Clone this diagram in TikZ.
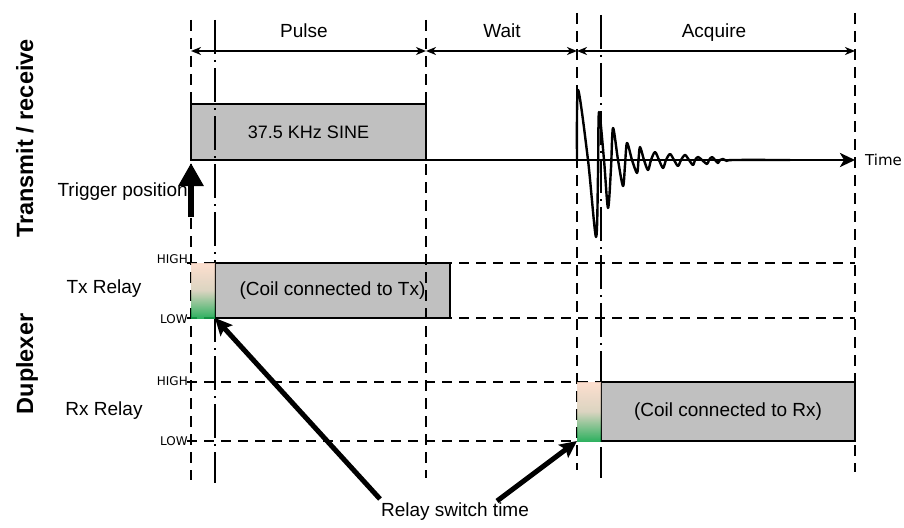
\documentclass[tikz,border=0pt]{standalone}
\usepackage{fontspec}
\setmainfont{Liberation Sans}
\newfontfamily\dvfont{DejaVu Sans}
\usetikzlibrary{arrows.meta}
\definecolor{boxgray}{RGB}{192,192,192}
\definecolor{peach}{RGB}{253,218,200}
\definecolor{midtone}{RGB}{214,206,184}
\definecolor{relaygreen}{RGB}{18,166,74}
\begin{document}
\begin{tikzpicture}[x=1pt,y=-1pt,
  vdash/.style={line width=2.3pt, dash pattern=on 11pt off 7pt},
  vdashdot/.style={line width=2.3pt, dash pattern=on 34pt off 6pt on 2pt off 6pt},
  hdash/.style={line width=2.3pt, dash pattern=on 10pt off 7pt},
  dimarrow/.style={line width=1.7pt, {Stealth[length=10pt,width=8pt,inset=3pt]}-{Stealth[length=10pt,width=8pt,inset=3pt]}},
  graybox/.style={draw, fill=boxgray, line width=2.7pt, inner sep=0pt, outer sep=0pt, anchor=north west, font=\fontsize{19}{22}\selectfont},
  gradbox/.style={top color=peach, bottom color=relaygreen, middle color=midtone, opacity=0.88, inner sep=0pt, outer sep=0pt, anchor=north west, minimum width=24pt},
  lbl/.style={font=\fontsize{19}{22}\selectfont, inner sep=0pt},
  lvl/.style={font=\dvfont\fontsize{12}{14}\selectfont, inner sep=0pt, anchor=east},
  side/.style={font=\bfseries\fontsize{23.5}{28}\selectfont, rotate=90, inner sep=0pt, anchor=base},
  bigarrow/.style={line width=5pt, -{Stealth[length=17pt,width=16pt,inset=3pt]}},
]
\useasboundingbox (0,0) rectangle (904,527);

% ---- column / level coordinates
\coordinate (c1t) at (191,20);  \coordinate (c1b) at (191,480);
\coordinate (c2t) at (215,20);  \coordinate (c2b) at (215,483);
\coordinate (c3t) at (426,20);  \coordinate (c3b) at (426,478);
\coordinate (c4t) at (577,13);  \coordinate (c4b) at (577,470);
\coordinate (c5t) at (601,15);  \coordinate (c5b) at (601,478);
\coordinate (c6t) at (855,13);  \coordinate (c6b) at (855,472);

\coordinate (thL) at (187,263); \coordinate (thR) at (855,263);
\coordinate (tlL) at (187,318); \coordinate (tlR) at (855,318);
\coordinate (rhL) at (187,382); \coordinate (rhR) at (855,382);
\coordinate (rlL) at (187,441); \coordinate (rlR) at (577,441);

% ---- horizontal level lines
\draw[hdash] (thL) -- (thR);
\draw[hdash] (tlL) -- (tlR);
\draw[hdash] (rhL) -- (rhR);
\draw[hdash] (rlL) -- (rlR);

% ---- boxes
\node[graybox, minimum width=235pt, minimum height=56pt, font=\fontsize{18}{21}\selectfont] (sine) at (191,104) {37.5 KHz SINE};
\node[graybox, minimum width=235pt, minimum height=55pt] (txbox) at (215,263) {(Coil connected to Tx)};
\node[graybox, minimum width=254pt, minimum height=59pt] (rxbox) at (601,382) {(Coil connected to Rx)};

% ---- vertical time markers
\draw[vdash] (c1t) -- (c1b);
\draw[vdashdot] (c2t) -- (c2b);
\draw[vdash] (c3t) -- (c3b);
\draw[vdash] (c4t) -- (c4b);
\draw[vdashdot] (c5t) -- (c5b);
\draw[vdash] (c6t) -- (c6b);

% ---- relay transition gradients
\node[gradbox, minimum height=55pt] (txgrad) at (191,263) {};
\node[gradbox, minimum height=59pt] (rxgrad) at (577,382) {};

% ---- phase dimension arrows
\coordinate (d1) at (191,51); \coordinate (d2) at (426,51);
\coordinate (d3) at (577,51); \coordinate (d4) at (855,51);
\draw[dimarrow] (d1) -- (d2);
\draw[dimarrow] (d2) -- (d3);
\draw[dimarrow] (d3) -- (d4);
\node[lbl, anchor=mid] (pulse) at (304,35) {Pulse};
\node[lbl, anchor=mid] (wait) at (502,35) {Wait};
\node[lbl, anchor=mid] (acq) at (714,35) {Acquire};

% ---- time axis
\coordinate (tend) at (855,160);
\draw[line width=2.8pt, -{Stealth[length=15pt,width=14pt,inset=4pt]}] (sine.south west) -- (tend);
\node[font=\dvfont\fontsize{15}{18}\selectfont, inner sep=0pt, anchor=west] (time) at (865,160) {Time};

% ---- decaying echo
\draw[line width=2.4pt, line join=round] plot[smooth, tension=0.5] coordinates {
 (577,160) (578,90) (588,160) (596,237) (598,175) (599,112) (604,160) (608,208)
 (611,168) (613,128) (618,160) (623,186) (625,165) (627,143) (632,160) (637,173)
 (638.5,160) (640,147) (644,160) (648,170) (651,160) (655,152) (659,160) (663,168)
 (666,160) (670,154) (674,160) (678,166) (681,160) (685,155) (689,160) (693,165)
 (695,160) (698,157) (702,160) (707,164) (709,160) (712,157) (715,160) (718,163)
 (720,160) (723,159) (727,161) (733,160) (790,160)};

% ---- trigger
\coordinate (trigtail) at (191,217);
\coordinate (trighead) at (191,163);
\draw[line width=6pt, -{Triangle[length=23pt,width=24pt]}] (trigtail) -- (trighead);
\node[lbl, anchor=mid east] (trig) at (188,194) {Trigger position};

% ---- labels
\node[side] (tr) at (33,138.5) {Transmit / receive};
\node[side] (dup) at (33,364) {Duplexer};
\node[lbl, anchor=mid] (txr) at (104,291) {Tx Relay};
\node[lbl, anchor=mid] (rxr) at (104,413) {Rx Relay};
\node[lvl] (th) at (188,259.5) {HIGH};
\node[lvl] (tl) at (188,319.5) {LOW};
\node[lvl] (rh) at (188,381.5) {HIGH};
\node[lvl] (rl) at (188,441.5) {LOW};

% ---- relay switch time
\node[lbl, anchor=mid] (rst) at (455,514) {Relay switch time};
\coordinate (rstA) at (380,499);
\coordinate (rstB) at (497,501);
\draw[bigarrow] (rstA) -- (txgrad.south east);
\draw[bigarrow] (rstB) -- (rxgrad.south west);
\end{tikzpicture}
\end{document}
